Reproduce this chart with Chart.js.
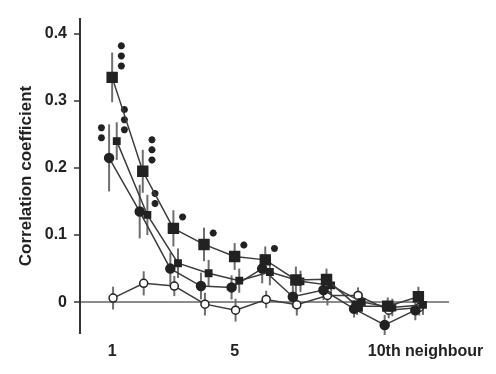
<!DOCTYPE html>
<html>
<head>
<meta charset="utf-8">
<script src="https://cdn.jsdelivr.net/npm/chart.js@4.4.0/dist/chart.umd.min.js"></script>
<style>
  html, body { margin: 0; padding: 0; background: #fff; }
  #wrap { width: 496px; height: 374px; position: relative; }
</style>
</head>
<body>
<div id="wrap"><canvas id="corr"></canvas></div>
<script>
// neighbour rank
const neighbours = [1, 2, 3, 4, 5, 6, 7, 8, 9, 10, 11];

// mean correlation for each group
const squares = [0.335, 0.195, 0.110, 0.086, 0.068, 0.063, 0.033, 0.034, -0.006, -0.006, 0.008];
const diamonds = [0.240, 0.130, 0.058, 0.043, 0.032, 0.045, 0.031, 0.025, 0.000, -0.008, -0.004];
const dots = [0.215, 0.135, 0.050, 0.024, 0.022, 0.050, 0.008, 0.018, -0.010, -0.034, -0.012];
const open = [0.006, 0.028, 0.024, -0.003, -0.012, 0.004, -0.004, 0.010, 0.010, -0.012, -0.008];

// standard errors
const squaresErr = [0.037, 0.032, 0.027, 0.025, 0.020, 0.020, 0.020, 0.016, 0.013, 0.013, 0.015];
const diamondsErr = [0.028, 0.030, 0.022, 0.020, 0.018, 0.020, 0.016, 0.015, 0.013, 0.013, 0.015];
const dotsErr = [0.050, 0.040, 0.024, 0.020, 0.018, 0.022, 0.016, 0.015, 0.013, 0.015, 0.015];
const openErr = [0.017, 0.018, 0.015, 0.017, 0.017, 0.013, 0.016, 0.015, 0.012, 0.012, 0.012];

// number of asterisks per point
const squaresSig = [3, 3, 1, 1, 1, 1, 0, 0, 0, 0, 0];
const diamondsSig = [3, 2, 0, 0, 0, 0, 0, 0, 0, 0, 0];
const dotsSig = [2, 0, 0, 0, 0, 0, 0, 0, 0, 0, 0];

const yTicks = [0, 0.1, 0.2, 0.3, 0.4];
const xTicks = [1, 5, 10];
const xTickLabels = ['1', '5', '10th neighbour'];

const ink = '#222';

// each group is nudged sideways a little so the error bars don't overlap
const groups = [
  { values: squares, errors: squaresErr, sig: squaresSig, shift: 0, starSide: 0.3, style: 'rect', radius: 7, fill: ink },
  { values: diamonds, errors: diamondsErr, sig: diamondsSig, shift: 0.15, starSide: 0.25, style: 'rect', radius: 4.5, fill: ink },
  { values: dots, errors: dotsErr, sig: dotsSig, shift: -0.1, starSide: -0.25, style: 'circle', radius: 4.5, fill: ink },
  { values: open, errors: openErr, sig: null, shift: 0.03, starSide: 0, style: 'circle', radius: 4, fill: '#fff' }
];

const datasets = groups.map(g => ({
  data: neighbours.map((n, i) => ({ x: n + g.shift, y: g.values[i] })),
  errors: g.errors,
  borderColor: '#3c3c3c',
  borderWidth: 1.5,
  pointStyle: g.style,
  pointRadius: g.radius,
  pointBackgroundColor: g.fill,
  pointBorderColor: ink,
  pointBorderWidth: 1.5,
  tension: 0
}));

// asterisks stacked above the significant points
const stars = [];
groups.forEach(g => {
  if (!g.sig) return;
  g.sig.forEach((count, i) => {
    const base = g.starSide < 0 ? 0.03 : 0.017;
    for (let k = 0; k < count; k++) {
      stars.push({ x: neighbours[i] + g.shift + g.starSide, y: g.values[i] + base + k * 0.015 });
    }
  });
});

datasets.push({
  data: stars,
  showLine: false,
  pointStyle: 'star',
  pointRadius: 3.5,
  pointBorderColor: ink,
  pointBorderWidth: 2.2,
  pointBackgroundColor: ink
});

const errorBars = {
  id: 'errorBars',
  beforeDatasetsDraw(chart) {
    const { ctx, scales: { x, y } } = chart;
    ctx.save();
    ctx.strokeStyle = '#6e6e6e';
    ctx.lineWidth = 2;
    chart.data.datasets.forEach(ds => {
      if (!ds.errors) return;
      ds.data.forEach((p, i) => {
        const px = x.getPixelForValue(p.x);
        ctx.beginPath();
        ctx.moveTo(px, y.getPixelForValue(p.y - ds.errors[i]));
        ctx.lineTo(px, y.getPixelForValue(p.y + ds.errors[i]));
        ctx.stroke();
      });
    });
    ctx.restore();
  }
};

// x labels: the last one runs on to the right of its tick
const xLabels = {
  id: 'xLabels',
  afterDraw(chart) {
    const { ctx, scales: { x } } = chart;
    ctx.save();
    ctx.font = 'bold 16px "Liberation Sans", Arial, sans-serif';
    ctx.fillStyle = ink;
    ctx.textBaseline = 'middle';
    xTicks.forEach((v, i) => {
      const last = i === xTicks.length - 1;
      ctx.textAlign = last ? 'left' : 'center';
      ctx.fillText(xTickLabels[i], x.getPixelForValue(v) - (last ? 20 : 0), 352);
    });
    ctx.restore();
  }
};

new Chart(document.getElementById('corr'), {
  type: 'line',
  data: { datasets: datasets },
  options: {
    responsive: true,
    maintainAspectRatio: false,
    animation: false,
    layout: { padding: { top: 19, right: 47, bottom: 41, left: 0 } },
    plugins: { legend: { display: false }, tooltip: { enabled: false } },
    scales: {
      x: { type: 'linear', min: -0.05, max: 12, display: false },
      y: {
        min: -0.046,
        max: 0.422,
        afterBuildTicks: scale => { scale.ticks = yTicks.map(v => ({ value: v })); },
        afterFit: scale => { scale.width = 80; },
        border: { display: true, color: '#333', width: 2 },
        grid: {
          drawOnChartArea: true,
          color: c => (c.tick && c.tick.value === 0 ? '#8c8c8c' : 'rgba(0,0,0,0)'),
          lineWidth: 2,
          tickColor: '#333',
          tickLength: 6,
          tickWidth: 1.5
        },
        ticks: {
          padding: 7,
          color: ink,
          font: { family: '"Liberation Sans", Arial, sans-serif', size: 16, weight: 'bold' },
          callback: v => (v === 0 ? '0' : v.toFixed(1))
        },
        title: {
          display: true,
          text: 'Correlation coefficient',
          color: ink,
          font: { family: '"Liberation Sans", Arial, sans-serif', size: 17, weight: 'bold' },
          padding: { top: 16, bottom: 0 }
        }
      }
    }
  },
  plugins: [errorBars, xLabels]
});
</script>
</body>
</html>
